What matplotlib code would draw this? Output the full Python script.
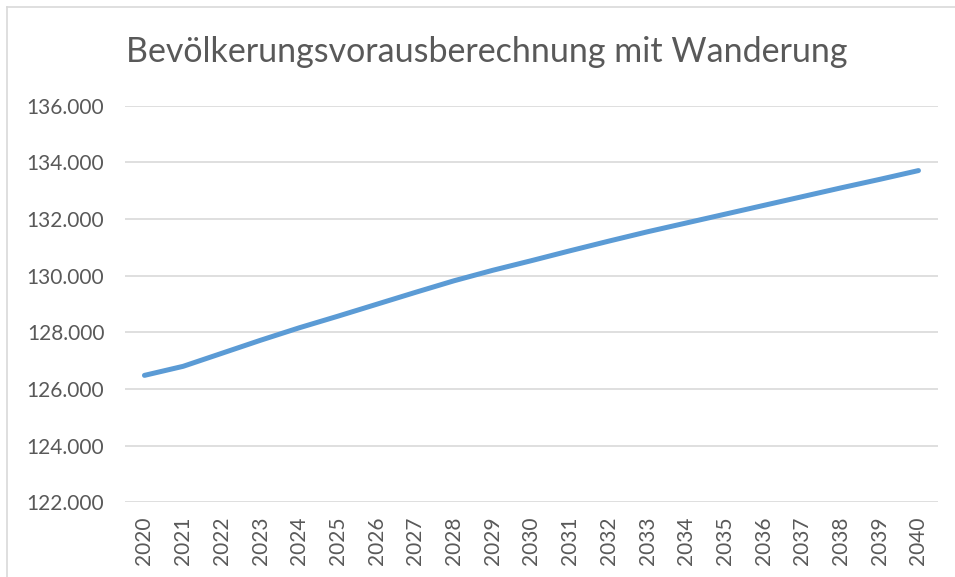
import matplotlib
matplotlib.use("Agg")
import matplotlib.pyplot as plt
from matplotlib.lines import Line2D
import numpy as np

# Bevölkerung (in Tausend)
years = [str(y) for y in range(2020, 2041)]
population = [126.48, 126.80, 127.26, 127.72, 128.16, 128.57, 128.99, 129.41,
              129.82, 130.19, 130.53, 130.88, 131.22, 131.55, 131.86, 132.17,
              132.48, 132.79, 133.10, 133.40, 133.71]
yticks = [122, 124, 126, 128, 130, 132, 134, 136]
ytick_labels = ["122.000", "124.000", "126.000", "128.000",
                "130.000", "132.000", "134.000", "136.000"]
title = "Bevölkerungsvorausberechnung mit Wanderung"

plt.rcParams['font.family'] = ['Lato', 'DejaVu Sans']
txt = "#595959"

fig = plt.figure(figsize=(9.55, 5.77), dpi=100)
ax = fig.add_axes([0.131, 0.1295, 0.851, 0.6873])

x = np.arange(len(years))
ax.plot(x, population, color="#5B9BD5", lw=3.6, solid_capstyle="round",
        solid_joinstyle="round", zorder=3)

ax.set_xlim(-0.5, len(years) - 0.5)
ax.set_ylim(122, 136)
ax.set_yticks(yticks)
ax.set_yticklabels(ytick_labels)
ax.set_xticks(x)
ax.set_xticklabels(years, rotation=90)
ax.grid(axis="y", color="#D9D9D9", lw=1.2)
ax.set_axisbelow(True)
for s in ax.spines.values():
    s.set_visible(False)
ax.tick_params(axis="both", length=0, labelsize=15, colors=txt)
ax.tick_params(axis="y", pad=15)
ax.tick_params(axis="x", pad=10)

fig.text(0.51, 0.91, title, ha="center", va="center", fontsize=24.5, color=txt)

# Rahmen des Diagramms (oben und links)
fig.add_artist(Line2D([7 / 955, 1], [1 - 7 / 577] * 2, color="#D9D9D9", lw=1.2))
fig.add_artist(Line2D([7 / 955] * 2, [0, 1 - 7 / 577], color="#D9D9D9", lw=1.2))

fig.savefig("out.png", dpi=100, facecolor="white")
